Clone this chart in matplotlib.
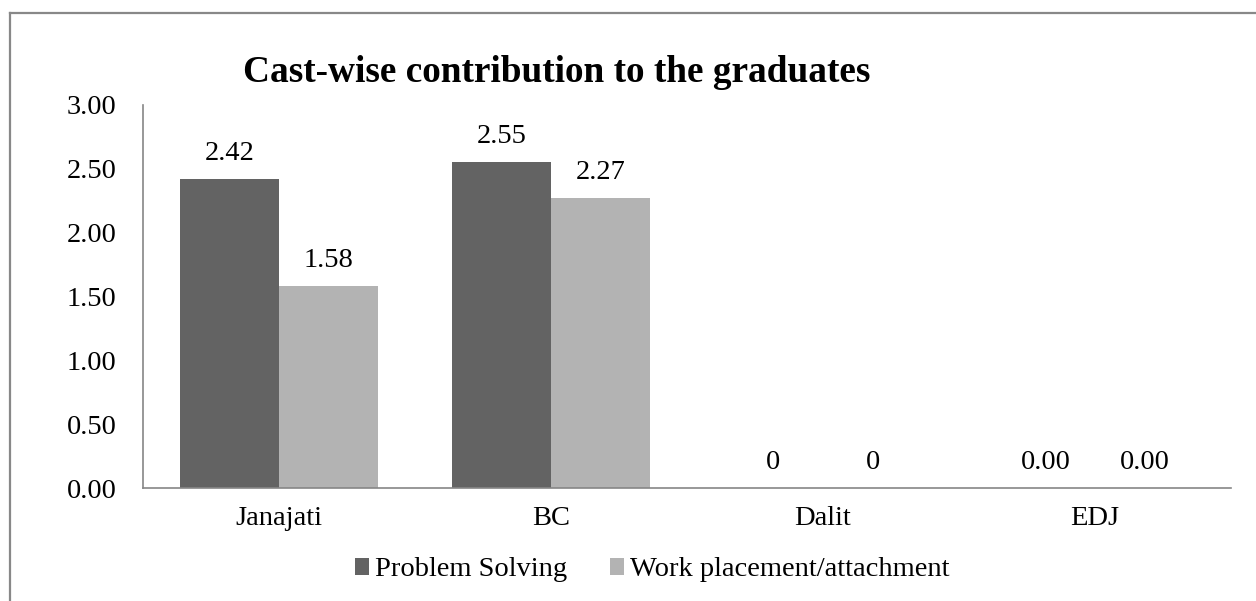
import matplotlib.pyplot as plt
import numpy as np
from matplotlib.lines import Line2D

plt.rcParams['font.family'] = ['Liberation Serif', 'DejaVu Serif']

# 数据
castes = ['Janajati', 'BC', 'Dalit', 'EDJ']
problem_solving = [2.42, 2.55, 0, 0]
work_placement = [1.58, 2.27, 0, 0]
ps_labels = ['2.42', '2.55', '0', '0.00']
wp_labels = ['1.58', '2.27', '0', '0.00']
y_ticks = [0, 0.5, 1.0, 1.5, 2.0, 2.5, 3.0]

W, H = 1256, 601
fig = plt.figure(figsize=(W / 100, H / 100), dpi=100)
ax = fig.add_axes([143 / W, 1 - 488 / H, (1231 - 143) / W, (488 - 105) / H])

x = np.arange(len(castes))
bw = 0.364
b1 = ax.bar(x - bw / 2, problem_solving, bw, color='#636363', label='Problem Solving')
b2 = ax.bar(x + bw / 2, work_placement, bw, color='#b3b3b3', label='Work placement/attachment')
ax.bar_label(b1, labels=ps_labels, padding=9.5, fontsize=20.5)
ax.bar_label(b2, labels=wp_labels, padding=9.5, fontsize=20.5)

ax.set_xlim(-0.5, len(castes) - 0.5)
ax.set_ylim(0, 3)
ax.set_yticks(y_ticks)
ax.set_yticklabels(['%.2f' % v for v in y_ticks])
ax.set_xticks(x)
ax.set_xticklabels(castes)
ax.tick_params(axis='y', length=0, pad=19, labelsize=20.5)
ax.tick_params(axis='x', length=0, pad=13, labelsize=20.5)
for s in ['top', 'right']:
    ax.spines[s].set_visible(False)
for s in ['left', 'bottom']:
    ax.spines[s].set_color('#868686')
    ax.spines[s].set_linewidth(1.2)

# 标题
fig.text(243 / W, 1 - 82 / H, 'Cast-wise contribution to the graduates',
         fontsize=26.8, fontweight='bold', ha='left', va='baseline')

# 图例
fig.legend(handles=[b1, b2], loc='center', bbox_to_anchor=(652 / W, 1 - 570 / H),
           ncol=2, frameon=False, fontsize=20.5, handlelength=0.5, handleheight=0.5,
           handletextpad=0.2, columnspacing=1.5, borderpad=0, borderaxespad=0)

# 外框（只看得到上边和左边）
fig.add_artist(Line2D([10 / W, 1], [1 - 13 / H, 1 - 13 / H], transform=fig.transFigure,
                      color='#888888', lw=1.6))
fig.add_artist(Line2D([10 / W, 10 / W], [0, 1 - 13 / H], transform=fig.transFigure,
                      color='#888888', lw=1.6))

fig.savefig('out.png', dpi=100)
